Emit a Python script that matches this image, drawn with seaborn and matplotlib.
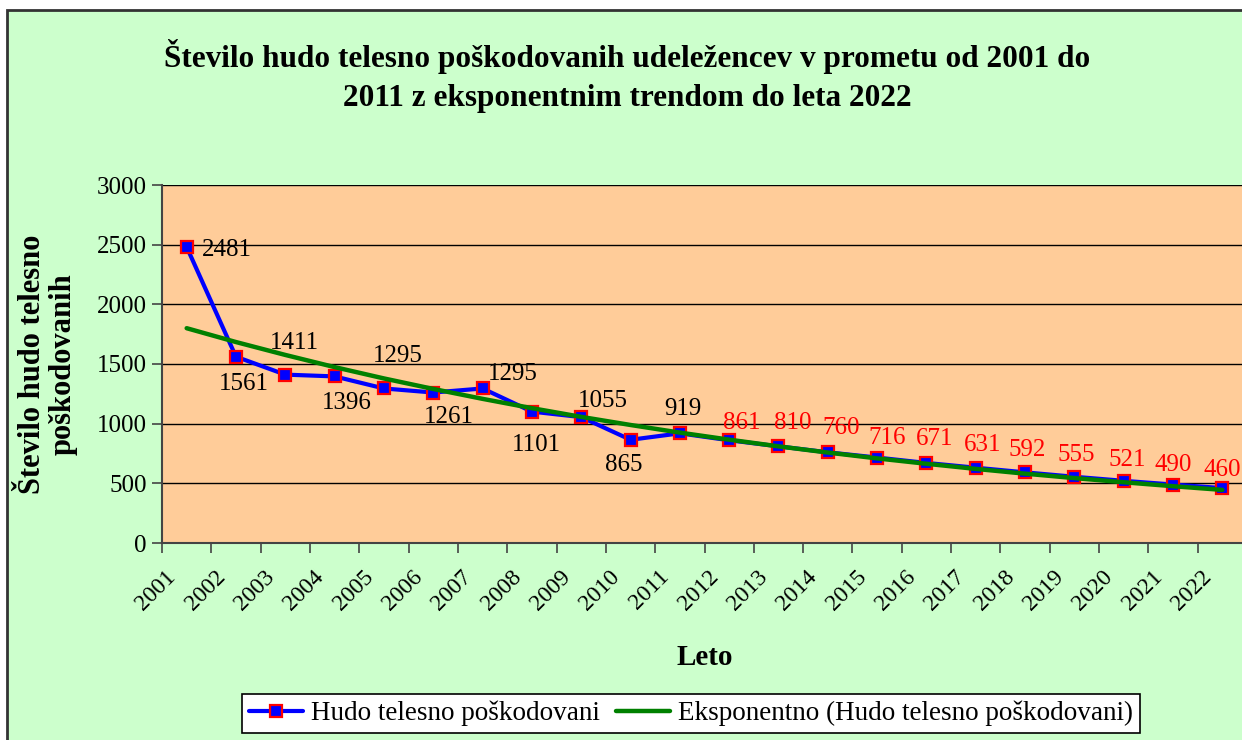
import matplotlib
matplotlib.use("Agg")
import matplotlib.pyplot as plt
import matplotlib.transforms as mtransforms
from matplotlib.patches import Rectangle
from matplotlib.ticker import FixedLocator, MultipleLocator
import pandas as pd
import seaborn as sns

# data
years = [str(y) for y in range(2001, 2023)]
injured = [2481, 1561, 1411, 1396, 1295, 1261, 1295, 1101, 1055, 865, 919,
           861, 810, 760, 716, 671, 631, 592, 555, 521, 490, 460]
trend = [1800, 1684, 1576, 1474, 1379, 1291, 1208, 1130, 1057, 989, 925,
         866, 810, 758, 709, 664, 621, 581, 544, 509, 476, 445]
n_actual = 11  # 2001-2011 measured, later years projected (red labels)

title = ("Število hudo telesno poškodovanih udeležencev v prometu od 2001 do\n"
         "2011 z eksponentnim trendom do leta 2022")
ylabel = "Število hudo telesno\npoškodovanih"
xlabel = "Leto"
series_name = "Hudo telesno poškodovani"
trend_name = "Eksponentno (Hudo telesno poškodovani)"

# label offsets in pixels (dx, dy), layout only
label_offsets = [(40, -3), (8, -27), (9, 32), (12, -27), (14, 32), (16, -24),
                 (30, 14), (5, -33), (22, 16), (-7, -25), (3, 24),
                 (13, 17), (14, 23), (13, 24), (10, 20), (8, 24), (7, 23),
                 (2, 22), (2, 22), (4, 21), (0, 20), (0, 18)]

BG = "#CCFFCC"
PLOT_BG = "#FFCC99"
FONT = ["Liberation Serif", "DejaVu Serif"]

sns.set_theme(style="white")
plt.rcParams["font.family"] = FONT
plt.rcParams["text.color"] = "black"
plt.rcParams["axes.labelcolor"] = "black"
plt.rcParams["xtick.color"] = "black"
plt.rcParams["ytick.color"] = "black"

df = pd.DataFrame({"pos": range(len(years)), "year": years,
                   "injured": injured, "trend": trend})

fig = plt.figure(figsize=(12.42, 7.40), dpi=100)
fig.patch.set_facecolor("white")
fig.patches.append(Rectangle((7 / 1242, -0.01), 1.0, 0.9865 + 0.01,
                             transform=fig.transFigure, facecolor=BG,
                             edgecolor="#333333", linewidth=2, zorder=-5))

ax = fig.add_axes([162 / 1242, 1 - 543 / 740, 1085 / 1242, 358 / 740])
ax.set_facecolor(PLOT_BG)

sns.lineplot(data=df, x="pos", y="injured", ax=ax, color="#0000FF",
             linewidth=3, marker="s", markersize=9, markerfacecolor="#0000FF",
             markeredgecolor="#FF0000", markeredgewidth=1.6,
             label=series_name, zorder=3)
sns.lineplot(data=df, x="pos", y="trend", ax=ax, color="#008000",
             linewidth=3.2, label=trend_name, zorder=4)

ax.set_xlim(-0.5, len(years) - 0.5)
ax.set_ylim(0, 3000)
ax.yaxis.set_major_locator(MultipleLocator(500))
ax.grid(axis="y", color="black", linewidth=1)
ax.grid(axis="x", visible=False)
ax.set_axisbelow(True)

for side in ["top", "right"]:
    ax.spines[side].set_visible(False)
for side in ["left", "bottom"]:
    ax.spines[side].set_color("#444444")
    ax.spines[side].set_linewidth(1.5)

ax.tick_params(axis="y", which="major", direction="out", length=7, width=1.2,
               color="#444444", labelsize=18, pad=4, left=True)
ax.set_xticks(df["pos"])
ax.set_xticklabels(years)
ax.xaxis.set_minor_locator(FixedLocator([p - 0.5 for p in df["pos"]]))
ax.tick_params(axis="x", which="major", length=0, labelsize=17, pad=22)
ax.tick_params(axis="x", which="minor", direction="out", length=7, width=1.2,
               color="#444444", bottom=True)
shift = mtransforms.ScaledTranslation(-14 / 100, 0, fig.dpi_scale_trans)
for lab in ax.get_xticklabels():
    lab.set_rotation(45)
    lab.set_ha("right")
    lab.set_va("center")
    lab.set_rotation_mode("anchor")
    lab.set_transform(lab.get_transform() + shift)

ax.set_xlabel(xlabel, fontsize=21, fontweight="bold", labelpad=21)
ax.set_ylabel(ylabel, fontsize=22, fontweight="bold", labelpad=14,
              linespacing=1.05)

for i, (v, (dx, dy)) in enumerate(zip(injured, label_offsets)):
    ax.annotate(str(v), (i, v), xytext=(dx * 0.72, dy * 0.72),
                textcoords="offset points", ha="center", va="center",
                fontsize=18, color="black" if i < n_actual else "#FF0000",
                zorder=5)

fig.text(0.5 * (162 + 1090) / 1242 + 0.001, 1 - 76 / 740, title,
         ha="center", va="center", fontsize=22.5, fontweight="bold",
         linespacing=1.45)

handles, labels = ax.get_legend_handles_labels()
ax.get_legend().remove()
leg = fig.legend(handles, labels, loc="lower center", ncol=2,
                 bbox_to_anchor=(691 / 1242, 7 / 740), fontsize=19.5,
                 frameon=True, fancybox=False, edgecolor="black",
                 framealpha=1, handlelength=2.0, handletextpad=0.3,
                 columnspacing=0.6, borderpad=0.25, borderaxespad=0)
leg.get_frame().set_linewidth(1.2)

fig.savefig("out.png", dpi=100, facecolor=fig.get_facecolor())
